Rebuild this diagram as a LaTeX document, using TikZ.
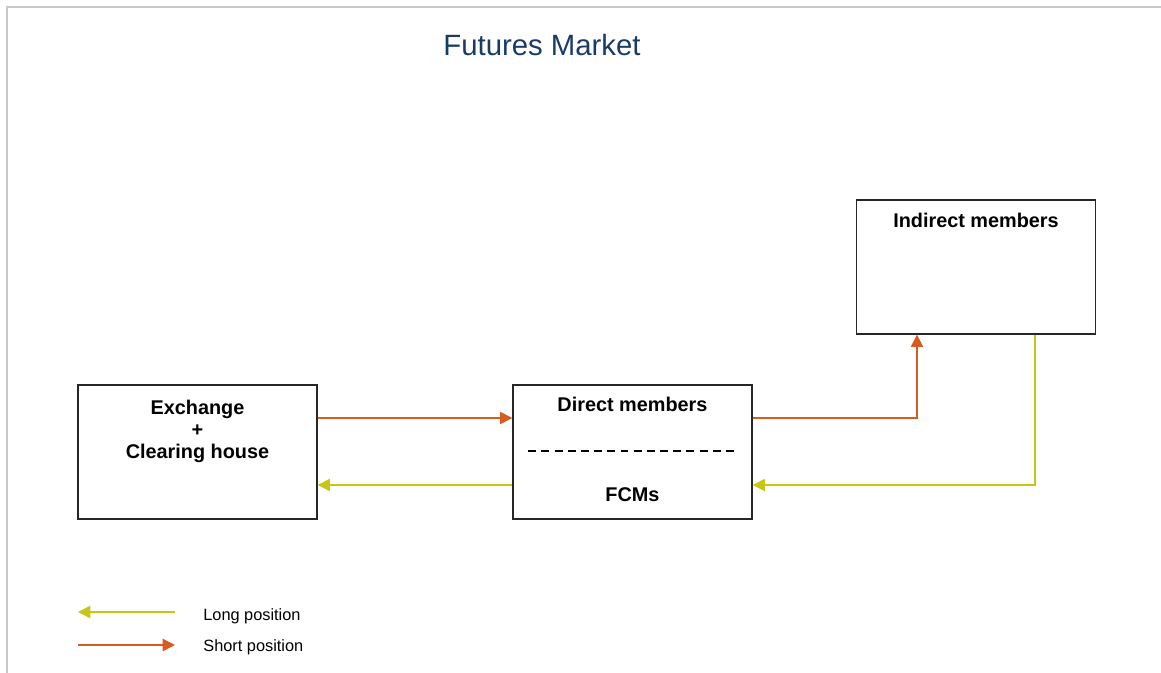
\documentclass[tikz,border=0pt]{standalone}
\usepackage{fontspec}
\setmainfont{Liberation Sans}
\usetikzlibrary{arrows.meta,positioning}
\definecolor{titleblue}{RGB}{24,60,102}
\definecolor{shortcol}{RGB}{214,92,32}
\definecolor{longcol}{RGB}{200,198,20}
\definecolor{framegray}{RGB}{200,200,200}
\tikzset{
  member/.style={draw=black!85,line width=0.8pt,minimum width=4.78cm,minimum height=2.68cm,inner sep=0pt},
  boxtext/.style={font=\bfseries\fontsize{11.3}{12.6}\selectfont,align=center,inner sep=0pt},
  short/.style={draw=shortcol,line width=0.8pt,-{Triangle[length=7pt,width=7pt]}},
  long/.style={draw=longcol,line width=0.8pt,-{Triangle[length=7pt,width=7pt]}},
  legendtext/.style={font=\fontsize{9.3}{10}\selectfont,anchor=west,inner sep=0pt}
}
\begin{document}
\begin{tikzpicture}[x=0.02cm,y=-0.02cm]
\useasboundingbox (0,0) rectangle (1161,673);
% frame
\draw[framegray,line width=1pt] (7,673) -- (7,7) -- (1161,7);
\node[font=\fontsize{16.7}{19}\selectfont,text=titleblue] (title) at (542,45) {Futures Market};

% boxes
\node[member] (ex) at (197.5,452) {};
\node[member] (dm) at (632.5,452) {};
\node[member] (im) at (976,267) {};
\node[boxtext,below=8.6pt of ex.north] (extxt) {Exchange\\+\\Clearing house};
\node[boxtext,below=7pt of dm.north] (dmtxt) {Direct members};
\node[boxtext,above=10pt of dm.south] (fcm) {FCMs};
\node[boxtext,below=7.6pt of im.north] (imtxt) {Indirect members};
\draw[dashed,line width=1.4pt,dash pattern=on 4.5pt off 3pt] ([xshift=0.32cm]dm.west |- 0,451) -- ([xshift=-0.28cm]dm.east |- 0,451);

% rows for the connectors
\coordinate (rowS) at (0,418);
\coordinate (rowL) at (0,485);
\coordinate (upS) at (917,0);
\coordinate (downL) at (1035,0);

\draw[short] (ex.east |- rowS) -- (dm.west |- rowS);
\draw[short] (dm.east |- rowS) -| (upS |- im.south);
\draw[long] (downL |- im.south) |- (dm.east |- rowL);
\draw[long] (dm.west |- rowL) -- (ex.east |- rowL);

% legend
\coordinate (lgA) at (78,612);
\coordinate (lgB) at (175,612);
\coordinate (lgC) at (78,645);
\coordinate (lgD) at (175,645);
\draw[long] (lgB) -- (lgA);
\draw[short] (lgC) -- (lgD);
\node[legendtext] (longtxt) at (203,616) {Long position};
\node[legendtext] (shorttxt) at (203,647) {Short position};
\end{tikzpicture}
\end{document}
